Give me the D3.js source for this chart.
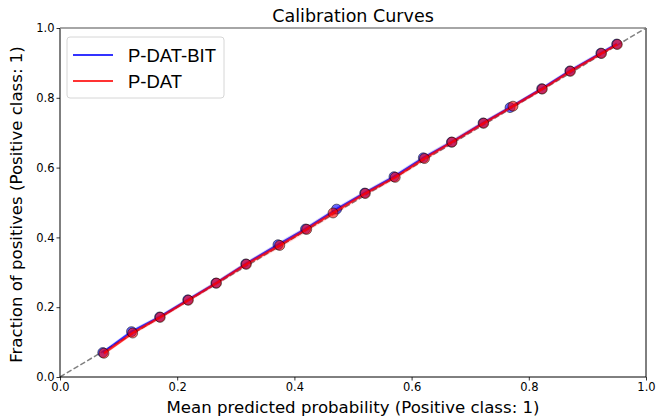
<!DOCTYPE html>
<html>
<head>
<meta charset="utf-8">
<script src="https://cdn.jsdelivr.net/npm/d3@7"></script>
<style>
  body { margin: 0; background: #fff; }
  text { font-family: "DejaVu Sans", sans-serif; }
</style>
</head>
<body>
<svg id="chart" width="656" height="418"></svg>
<script>
// mean predicted probability per bin, fraction of positives per bin
const bitX = [0.073, 0.122, 0.170, 0.218, 0.266, 0.317, 0.372, 0.419, 0.472, 0.520, 0.570, 0.620, 0.668, 0.722, 0.768, 0.822, 0.870, 0.923, 0.950];
const bitY = [0.070, 0.130, 0.172, 0.221, 0.269, 0.324, 0.379, 0.424, 0.481, 0.527, 0.574, 0.628, 0.673, 0.728, 0.772, 0.826, 0.877, 0.928, 0.954];
const bitErr = [0.006, 0.006, 0.006, 0.006, 0.006, 0.006, 0.007, 0.007, 0.007, 0.007, 0.007, 0.007, 0.007, 0.006, 0.006, 0.006, 0.006, 0.006, 0.005];

const datX = [0.075, 0.124, 0.171, 0.219, 0.267, 0.318, 0.375, 0.421, 0.466, 0.521, 0.572, 0.622, 0.669, 0.723, 0.773, 0.823, 0.871, 0.924, 0.951];
const datY = [0.068, 0.126, 0.171, 0.220, 0.269, 0.323, 0.377, 0.423, 0.470, 0.526, 0.572, 0.626, 0.673, 0.727, 0.776, 0.825, 0.876, 0.927, 0.953];
const datErr = [0.006, 0.006, 0.006, 0.006, 0.007, 0.007, 0.008, 0.008, 0.008, 0.007, 0.007, 0.007, 0.007, 0.007, 0.006, 0.006, 0.006, 0.006, 0.005];

const ticks = [0, 0.2, 0.4, 0.6, 0.8, 1.0];

const series = [
  { name: "P-DAT-BIT", color: "#0000ff", x: bitX, y: bitY, err: bitErr },
  { name: "P-DAT", color: "#ff0000", x: datX, y: datY, err: datErr }
];

const margin = { left: 60, right: 10, top: 28, bottom: 41 };
const width = 656, height = 418;
const svg = d3.select("#chart");

const x = d3.scaleLinear().domain([0, 1]).range([margin.left, width - margin.right]);
const y = d3.scaleLinear().domain([0, 1]).range([height - margin.bottom, margin.top]);

// perfectly calibrated diagonal
svg.append("line")
  .attr("x1", x(0)).attr("y1", y(0)).attr("x2", x(1)).attr("y2", y(1))
  .attr("stroke", "#808080").attr("stroke-width", 1.5)
  .attr("stroke-dasharray", "5.5,2.4");

series.forEach(s => {
  const pts = s.x.map((v, i) => ({ x: v, y: s.y[i], e: s.err[i] }));

  svg.append("path")
    .datum(pts)
    .attr("fill", s.color).attr("fill-opacity", 0.15)
    .attr("d", d3.area().x(d => x(d.x)).y0(d => y(d.y - d.e)).y1(d => y(d.y + d.e)));

  svg.append("path")
    .datum(pts)
    .attr("fill", "none").attr("stroke", s.color).attr("stroke-opacity", 0.8)
    .attr("stroke-width", 2.2)
    .attr("d", d3.line().x(d => x(d.x)).y(d => y(d.y)));

  svg.append("g").selectAll("circle")
    .data(pts).enter().append("circle")
    .attr("cx", d => x(d.x)).attr("cy", d => y(d.y)).attr("r", 5)
    .attr("fill", s.color).attr("fill-opacity", 0.6)
    .attr("stroke", "#000").attr("stroke-opacity", 0.5).attr("stroke-width", 1);
});

// axes
const xAxis = svg.append("g")
  .attr("transform", "translate(0," + y(0) + ")")
  .call(d3.axisBottom(x).tickValues(ticks).tickFormat(d3.format(".1f")).tickSize(3.5).tickPadding(2));
const yAxis = svg.append("g")
  .attr("transform", "translate(" + x(0) + ",0)")
  .call(d3.axisLeft(y).tickValues(ticks).tickFormat(d3.format(".1f")).tickSize(3.5).tickPadding(2));
[xAxis, yAxis].forEach(a => {
  a.select(".domain").remove();
  a.selectAll("text").attr("font-size", 11.5).attr("fill", "#000").style("font-family", "DejaVu Sans");
  a.selectAll("line").attr("stroke", "#000").attr("stroke-width", 0.8);
});

// spines
svg.append("line").attr("x1", x(0)).attr("x2", x(1)).attr("y1", y(0)).attr("y2", y(0)).attr("stroke", "#000").attr("stroke-width", 1);
svg.append("line").attr("x1", x(0)).attr("x2", x(0)).attr("y1", y(0)).attr("y2", y(1)).attr("stroke", "#000").attr("stroke-width", 1);
svg.append("line").attr("x1", x(1)).attr("x2", x(1)).attr("y1", y(0)).attr("y2", y(1)).attr("stroke", "#000").attr("stroke-width", 1);
svg.append("line").attr("x1", x(0)).attr("x2", x(1)).attr("y1", y(1)).attr("y2", y(1)).attr("stroke", "#888").attr("stroke-width", 1.6);

// title and labels
svg.append("text").attr("x", (x(0) + x(1)) / 2).attr("y", 22)
  .attr("text-anchor", "middle").attr("font-size", 17.5).text("Calibration Curves");
svg.append("text").attr("x", (x(0) + x(1)) / 2).attr("y", 413)
  .attr("text-anchor", "middle").attr("font-size", 16.6).text("Mean predicted probability (Positive class: 1)");
svg.append("text")
  .attr("transform", "translate(22," + ((y(0) + y(1)) / 2 + 2) + ") rotate(-90)")
  .attr("text-anchor", "middle").attr("font-size", 16.6).text("Fraction of positives (Positive class: 1)");

// legend
const lg = svg.append("g").attr("transform", "translate(67,37)");
lg.append("rect").attr("width", 157).attr("height", 61).attr("rx", 3)
  .attr("fill", "#fff").attr("fill-opacity", 0.8).attr("stroke", "#d6d6d6");
series.forEach((s, i) => {
  const yy = 18 + i * 26;
  lg.append("line").attr("x1", 6).attr("x2", 46).attr("y1", yy).attr("y2", yy)
    .attr("stroke", s.color).attr("stroke-opacity", 0.8).attr("stroke-width", 2.2);
  lg.append("text").attr("x", 61).attr("y", yy + 6.5).attr("font-size", 18.5)
    .style("font-family", "'Liberation Sans', Arial, sans-serif").text(s.name);
});
</script>
</body>
</html>
